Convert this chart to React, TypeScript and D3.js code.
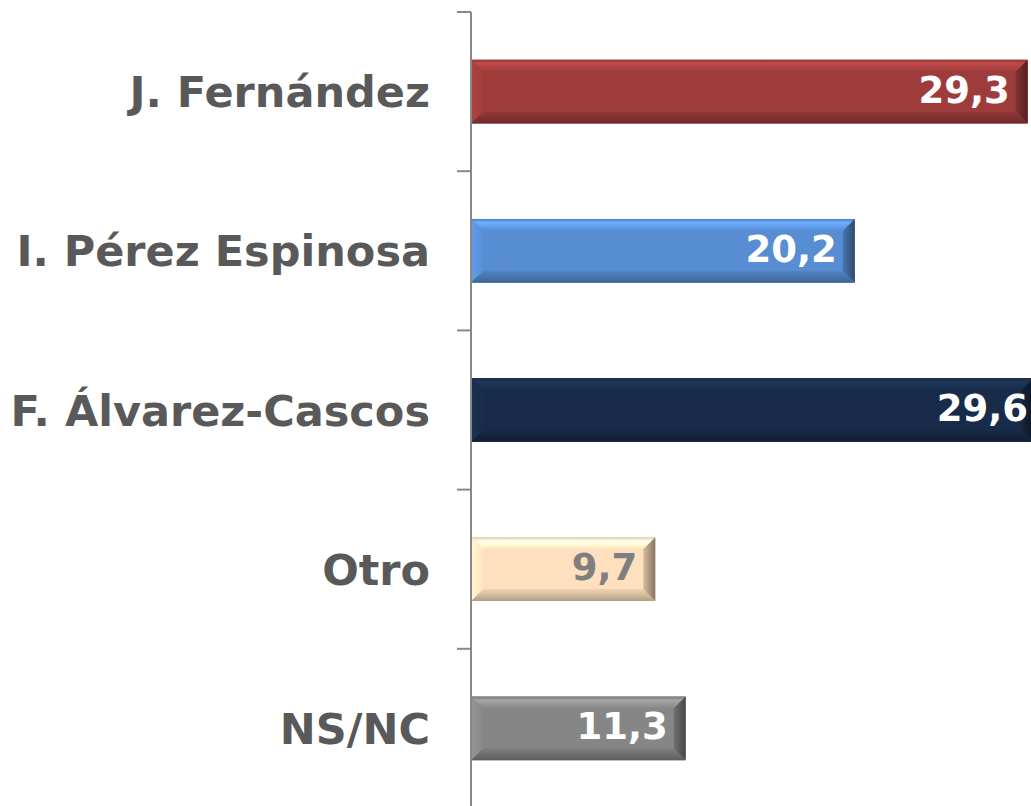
import React from "react";
import * as d3 from "d3";

const categories = ["J. Fernández", "I. Pérez Espinosa", "F. Álvarez-Cascos", "Otro", "NS/NC"];
const values = [29.3, 20.2, 29.6, 9.7, 11.3];
const valueLabels = ["29,3", "20,2", "29,6", "9,7", "11,3"];
const barColors = ["#9d3c3b", "#578dd2", "#182c4a", "#fee0be", "#868686"];
const labelColors = ["#ffffff", "#ffffff", "#ffffff", "#7f7f7f", "#ffffff"];

const W = 1031;
const H = 806;
const AXIS_X = 471;
const TOP = 12;
const STEP = 159.2;

export default function App() {
  const x = d3.scaleLinear().domain([0, 30]).range([AXIS_X, AXIS_X + 30 * 19.0]);
  const y = d3
    .scaleBand<string>()
    .domain(categories)
    .range([TOP, TOP + STEP * categories.length])
    .paddingInner(0.6)
    .paddingOuter(0.3);
  const bw = y.bandwidth();
  const b = 12;
  const ticks = d3.range(categories.length + 1).map((i) => TOP + i * y.step());

  return (
    <svg
      width={W}
      height={H}
      style={{ position: "absolute", left: 0, top: 0, display: "block" }}
      fontFamily="'DejaVu Sans', Verdana, sans-serif"
    >
      <defs>
        {barColors.map((c, i) => {
          const base = d3.color(c)!;
          const br = (k: number) => base.brighter(k).formatHex();
          const dk = (k: number) => base.darker(k).formatHex();
          return (
            <React.Fragment key={i}>
              <linearGradient id={`top${i}`} x1="0" y1="0" x2="0" y2="1">
                <stop offset="0" stopColor={dk(0.3)} />
                <stop offset="0.3" stopColor={br(0.6)} />
                <stop offset="0.6" stopColor={br(0.35)} />
                <stop offset="1" stopColor={c} />
              </linearGradient>
              <linearGradient id={`bot${i}`} x1="0" y1="0" x2="0" y2="1">
                <stop offset="0" stopColor={dk(0.15)} />
                <stop offset="0.7" stopColor={dk(0.7)} />
                <stop offset="1" stopColor={dk(1.0)} />
              </linearGradient>
              <linearGradient id={`lft${i}`} x1="0" y1="0" x2="1" y2="0">
                <stop offset="0" stopColor={br(0.3)} />
                <stop offset="1" stopColor={br(0.05)} />
              </linearGradient>
              <linearGradient id={`rgt${i}`} x1="0" y1="0" x2="1" y2="0">
                <stop offset="0" stopColor={dk(0.5)} />
                <stop offset="1" stopColor={dk(1.8)} />
              </linearGradient>
            </React.Fragment>
          );
        })}
      </defs>

      {categories.map((cat, i) => {
        const x0 = x(0);
        const x1 = x(values[i]);
        const y0 = y(cat)!;
        const y1 = y0 + bw;
        const pts = (p: number[][]) => p.map((q) => q.join(",")).join(" ");
        const cy = y0 + bw / 2;
        const clipped = x1 > W;
        const tx = clipped ? W - 3 : x1 - 18;
        return (
          <g key={cat}>
            <rect x={x0} y={y0} width={x1 - x0} height={bw} fill={barColors[i]} />
            <polygon fill={`url(#top${i})`} points={pts([[x0, y0], [x1, y0], [x1 - b, y0 + b], [x0 + b, y0 + b]])} />
            <polygon fill={`url(#bot${i})`} points={pts([[x0, y1], [x1, y1], [x1 - b, y1 - b], [x0 + b, y1 - b]])} />
            <polygon fill={`url(#lft${i})`} points={pts([[x0, y0], [x0 + b, y0 + b], [x0 + b, y1 - b], [x0, y1]])} />
            <polygon fill={`url(#rgt${i})`} points={pts([[x1, y0], [x1 - b, y0 + b], [x1 - b, y1 - b], [x1, y1]])} />
            <text
              x={430}
              y={cy + 15.5}
              textAnchor="end"
              fontSize={43}
              fontWeight="bold"
              fill="#595959"
            >
              {cat}
            </text>
            <text
              x={tx}
              y={cy + 11}
              textAnchor="end"
              fontSize={37}
              fontWeight="bold"
              fill={labelColors[i]}
            >
              {valueLabels[i]}
            </text>
          </g>
        );
      })}

      <line x1={AXIS_X} x2={AXIS_X} y1={TOP} y2={H + 10} stroke="#888888" strokeWidth={2} />
      {ticks.map((t, i) => (
        <line key={i} x1={AXIS_X - 14} x2={AXIS_X} y1={t} y2={t} stroke="#888888" strokeWidth={2} />
      ))}
    </svg>
  );
}
